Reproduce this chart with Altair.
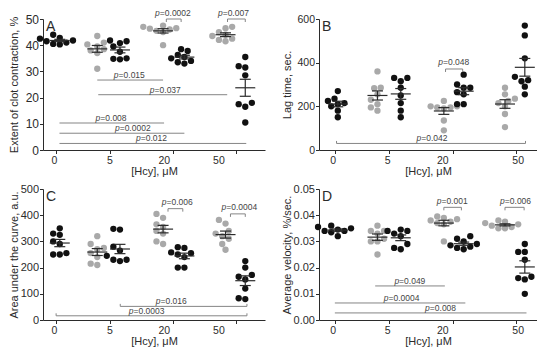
import altair as alt
import numpy as np
import pandas as pd

FONT = "Liberation Sans"
BLACK = "#111111"
GRAY = "#a9a9a9"
SIG = "#858585"
INK = "#2b2b2b"
PTXT = "#444444"

# ---- category axis ----
conc_labels = ["0", "5", "20", "50"]
group_names = ["0 black", "5 gray", "5 black", "20 gray", "20 black", "50 gray", "50 black"]
group_color = ["black", "gray", "black", "gray", "black", "gray", "black"]

left_ticks = [12.7, 68.3, 131.7, 195.7]
left_label_pos = [11.7, 67.7, 123.0, 178.3]
left_group_pos = [17.0, 55.0, 78.0, 121.7, 143.3, 185.0, 205.0]
right_ticks = [16.0, 71.0, 135.0, 198.4]
right_label_pos = [14.4, 69.4, 125.0, 201.0]
right_group_pos = [19.0, 59.0, 82.5, 126.0, 146.0, 187.7, 207.7]

# ---- panel A: extent of clot contraction, % ----
a_0b = [44.0, 42.8, 42.5, 41.8, 41.5, 41.0, 40.5, 40.3]
a_5g = [43.5, 41.0, 40.3, 39.5, 38.5, 38.0, 37.0, 31.0]
a_5b = [41.8, 41.5, 40.8, 39.5, 37.5, 35.0, 34.8, 34.6]
a_20g = [47.5, 47.0, 46.5, 46.3, 46.0, 45.5, 45.0, 40.0]
a_20b = [38.5, 37.8, 36.3, 35.5, 35.0, 34.0, 33.5, 33.0]
a_50g = [47.0, 46.5, 45.0, 44.0, 43.5, 42.5, 42.0, 41.5]
a_50b = [35.5, 32.0, 31.5, 28.5, 18.0, 17.5, 16.5, 10.5]
a_sig_x1 = [125.0, 187.0, 55.0, 56.0, 16.7, 16.7, 16.7]
a_sig_x2 = [140.0, 205.0, 121.7, 186.7, 122.7, 143.3, 206.0]
a_sig_y = [50.0, 50.0, 26.7, 21.1, 10.3, 6.4, 2.5]
a_sig_p = ["0.0002", "0.007", "0.015", "0.037", "0.008", "0.0002", "0.012"]
a_sig_tx = [131.7, 193.0, 87.5, 124.0, 69.0, 91.0, 110.0]
a_sig_top = [True, True, False, False, False, False, False]

# ---- panel B: lag time, sec ----
b_0b = [270, 235, 225, 215, 210, 200, 180, 150]
b_5g = [360, 285, 283, 255, 230, 210, 195, 180]
b_5b = [330, 330, 315, 285, 250, 215, 180, 150]
b_20g = [225, 200, 200, 195, 195, 190, 135, 90]
b_20b = [345, 300, 285, 285, 265, 255, 210, 210]
b_50g = [285, 255, 235, 225, 215, 200, 165, 105]
b_50b = [570, 525, 420, 335, 320, 315, 290, 255]
b_sig_x1 = [127.7, 17.7]
b_sig_x2 = [145.0, 208.4]
b_sig_y = [371, 30]
b_sig_p = ["0.048", "0.042"]
b_sig_tx = [136.0, 114.0]
b_sig_top = [True, False]

# ---- panel C: area under the curve, a.u. ----
c_0b = [350, 330, 325, 300, 290, 255, 250, 250]
c_5g = [320, 290, 275, 270, 255, 240, 215, 210]
c_5b = [348, 345, 280, 265, 245, 230, 230, 225]
c_20g = [405, 390, 365, 355, 340, 330, 300, 290]
c_20b = [278, 275, 258, 255, 250, 240, 200, 200]
c_50g = [382, 368, 340, 330, 320, 310, 290, 268]
c_50b = [225, 200, 172, 165, 155, 120, 83, 80]
c_sig_x1 = [126.7, 190.0, 78.3, 13.3]
c_sig_x2 = [141.7, 205.0, 206.7, 206.7]
c_sig_y = [425, 405, 52, 16]
c_sig_p = ["0.006", "0.0004", "0.016", "0.0003"]
c_sig_tx = [136.0, 199.0, 130.0, 105.0]
c_sig_top = [True, True, False, False]

# ---- panel D: average velocity, %/sec ----
d_0b = [0.036, 0.0355, 0.035, 0.0345, 0.034, 0.034, 0.0335, 0.032]
d_5g = [0.036, 0.034, 0.034, 0.033, 0.031, 0.030, 0.030, 0.025]
d_5b = [0.0345, 0.034, 0.034, 0.033, 0.032, 0.029, 0.0275, 0.027]
d_20g = [0.0395, 0.039, 0.0385, 0.038, 0.0375, 0.037, 0.0365, 0.030]
d_20b = [0.032, 0.031, 0.030, 0.029, 0.0285, 0.028, 0.0275, 0.027]
d_50g = [0.038, 0.0375, 0.037, 0.0365, 0.036, 0.0355, 0.035, 0.035]
d_50b = [0.029, 0.026, 0.026, 0.023, 0.0165, 0.016, 0.0155, 0.010]
d_sig_x1 = [126.0, 187.7, 56.7, 16.0, 16.0]
d_sig_x2 = [143.7, 207.0, 127.0, 147.7, 209.4]
d_sig_y = [0.043, 0.043, 0.013, 0.0065, 0.0027]
d_sig_p = ["0.001", "0.006", "0.049", "0.0004", "0.008"]
d_sig_tx = [134.4, 198.4, 91.7, 83.4, 122.7]
d_sig_top = [True, True, False, False, False]

W_LEFT, W_RIGHT, H = 222, 218, 131
PFS = 8.5


def text_w(s, fs):
    tbl = {"p": 0.556, "=": 0.584, ".": 0.278}
    return sum(tbl.get(ch, 0.556) for ch in s) * fs


def swarm(vals, px_per_unit, dmin=6.2, step=3.3):
    order = np.argsort(vals)
    placed = []
    offs = [0.0] * len(vals)
    cands = [0.0]
    for k in range(1, 8):
        cands += [-k * step, k * step]
    for i in order:
        y = vals[i] * px_per_unit
        chosen = cands[-1]
        for c in cands:
            if all((c - px) ** 2 + (y - py) ** 2 >= dmin ** 2 for py, px in placed):
                chosen = c
                break
        placed.append((y, chosen))
        offs[i] = chosen
    return offs


def panel(groups, gpos, ticks, lpos, L, W, ymax, yticks, yfmt, ytitle, ylab_fs,
          ext, letter, sx1, sx2, sy, sp, stx, stop, low_ticks):
    ux = L / W
    uy = ymax / H
    xs = alt.Scale(domain=[0, L], nice=False, zero=False)
    ys = alt.Scale(domain=[0, ymax], nice=False, zero=True)
    xaxis = alt.Axis(values=ticks, labels=False, grid=False, title="[Hcy], μM",
                     titlePadding=11.5, tickSize=3.5, titleFontSize=11)
    yaxis = alt.Axis(values=yticks, format=yfmt, grid=False, title=ytitle,
                     tickSize=3.5, labelPadding=1, labelFontSize=ylab_fs,
                     titleFontSize=11, titlePadding=0.5, minExtent=ext, maxExtent=ext)

    def X(f):
        return alt.X(f, type="quantitative", scale=xs, axis=xaxis)

    def Y(f):
        return alt.Y(f, type="quantitative", scale=ys, axis=yaxis)

    rows, stats = [], []
    for pos, vals, col in zip(gpos, groups, group_color):
        offs = swarm(vals, 1.0 / uy)
        for v, o in zip(vals, offs):
            rows.append(dict(x=pos + o * ux, y=v, c=col))
        arr = np.array(vals, dtype=float)
        m = arr.mean()
        sem = arr.std(ddof=1) / np.sqrt(len(arr))
        stats.append(dict(x=pos, xl=pos - 10 * ux, xr=pos + 10 * ux,
                          cl=pos - 5.5 * ux, cr=pos + 5.5 * ux,
                          m=m, lo=m - sem, hi=m + sem))
    pts = pd.DataFrame(rows)
    st = pd.DataFrame(stats)

    points = alt.Chart(pts).mark_circle(size=40, opacity=1).encode(
        x=X("x"), y=Y("y"),
        color=alt.Color("c:N", scale=alt.Scale(domain=["black", "gray"], range=[BLACK, GRAY]), legend=None),
    )
    rule = dict(color=INK, strokeWidth=1.2)
    mean_l = alt.Chart(st).mark_rule(**rule).encode(x=X("xl"), x2="xr", y=Y("m"))
    sem_l = alt.Chart(st).mark_rule(**rule).encode(x=X("x"), y=Y("lo"), y2="hi")
    cap_lo = alt.Chart(st).mark_rule(**rule).encode(x=X("cl"), x2="cr", y=Y("lo"))
    cap_hi = alt.Chart(st).mark_rule(**rule).encode(x=X("cl"), x2="cr", y=Y("hi"))

    sg = pd.DataFrame(dict(x1=sx1, x2=sx2, y=sy))
    sig_lines = alt.Chart(sg).mark_rule(color=SIG, strokeWidth=1).encode(x=X("x1"), x2="x2", y=Y("y"))
    tk = []
    txt = []
    for a, b, y, p, t, top in zip(sx1, sx2, sy, sp, stx, stop):
        if top:
            for xx in (a, b):
                tk.append(dict(x=xx, y=y, y2=y - 3 * uy))
        elif low_ticks:
            for xx in (a, b):
                tk.append(dict(x=xx, y=y, y2=y + 2.5 * uy))
        rest = "=" + p
        wp = text_w("p", PFS)
        tot = wp + text_w(rest, PFS)
        left_px = t / ux - tot / 2
        ty = y + (3.5 if top else 2.0) * uy
        txt.append(dict(px=left_px * ux, rx=(left_px + wp) * ux, ty=ty, p="p", r=rest))
    tkd = pd.DataFrame(tk)
    sig_ticks = alt.Chart(tkd).mark_rule(color=SIG, strokeWidth=1).encode(x=X("x"), y=Y("y"), y2="y2")
    td = pd.DataFrame(txt)
    p_it = alt.Chart(td).mark_text(align="left", baseline="alphabetic", fontSize=PFS, font=FONT,
                                   fontStyle="italic", color=PTXT).encode(x=X("px"), y=Y("ty"), text="p:N")
    p_rest = alt.Chart(td).mark_text(align="left", baseline="alphabetic", fontSize=PFS, font=FONT,
                                     color=PTXT).encode(x=X("rx"), y=Y("ty"), text="r:N")

    xl = pd.DataFrame(dict(x=lpos, t=conc_labels))
    xlabels = alt.Chart(xl).mark_text(baseline="top", fontSize=10.5, font=FONT, color=INK).encode(
        x=X("x"), y=alt.value(H + 5.5), text="t:N")
    let = alt.Chart(pd.DataFrame(dict(t=[letter]))).mark_text(
        align="left", baseline="top", fontSize=14, font=FONT, color=INK).encode(
        x=alt.value(3), y=alt.value(1), text="t:N")

    return alt.layer(points, sig_lines, sig_ticks, mean_l, sem_l, cap_lo, cap_hi,
                     p_it, p_rest, xlabels, let).properties(width=W, height=H)


A = panel([a_0b, a_5g, a_5b, a_20g, a_20b, a_50g, a_50b], left_group_pos, left_ticks, left_label_pos,
          225, W_LEFT, 50, [0, 10, 20, 30, 40, 50], "d", "Extent of clot contraction, %", 12, 23, "A",
          a_sig_x1, a_sig_x2, a_sig_y, a_sig_p, a_sig_tx, a_sig_top, False)
B = panel([b_0b, b_5g, b_5b, b_20g, b_20b, b_50g, b_50b], right_group_pos, right_ticks, right_label_pos,
          220, W_RIGHT, 600, [0, 200, 400, 600], "d", "Lag time, sec.", 10.5, 26, "B",
          b_sig_x1, b_sig_x2, b_sig_y, b_sig_p, b_sig_tx, b_sig_top, True)
C = panel([c_0b, c_5g, c_5b, c_20g, c_20b, c_50g, c_50b], left_group_pos, left_ticks, left_label_pos,
          225, W_LEFT, 500, [0, 100, 200, 300, 400, 500], "d", "Area under the curve, a.u.", 11, 23, "C",
          c_sig_x1, c_sig_x2, c_sig_y, c_sig_p, c_sig_tx, c_sig_top, True)
D = panel([d_0b, d_5g, d_5b, d_20g, d_20b, d_50g, d_50b], right_group_pos, right_ticks, right_label_pos,
          220, W_RIGHT, 0.05, [0, 0.01, 0.02, 0.03, 0.04, 0.05], ".2f", "Average velocity, %/sec.", 11, 26, "D",
          d_sig_x1, d_sig_x2, d_sig_y, d_sig_p, d_sig_tx, d_sig_top, False)

chart = alt.vconcat(
    alt.hconcat(A, B, spacing=16),
    alt.hconcat(C, D, spacing=16),
    spacing=6,
).properties(padding=0).configure_view(stroke=None).configure_axis(
    labelFont=FONT, titleFont=FONT, domainColor=INK, tickColor=INK,
    labelColor=INK, titleColor=INK, titleFontWeight="normal", domainWidth=1, tickWidth=1,
)

chart.save("out.html", embed_options={"renderer": "svg", "actions": False})
